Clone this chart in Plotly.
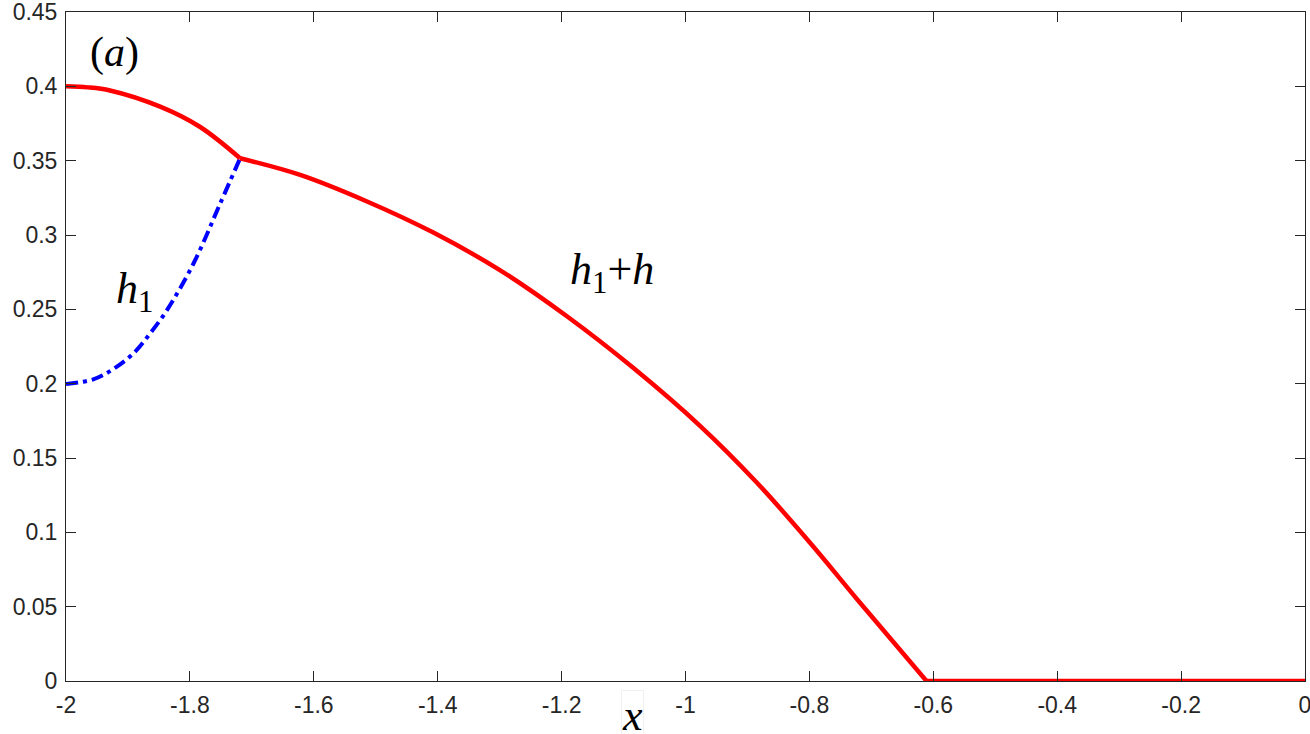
import plotly.graph_objects as go

# Red curve h1+h, upper part (x from -2 to junction)
red1_x = [-2.0, -1.965, -1.929, -1.848, -1.784, -1.719]
red1_y = [0.400, 0.3993, 0.3972, 0.3863, 0.3728, 0.3516]
# Red curve h1+h, main part (junction to front)
red2_x = [-1.719, -1.622, -1.515, -1.407, -1.299, -1.192, -1.084, -0.977, -0.885, -0.800, -0.720, -0.611]
red2_y = [0.3516, 0.3404, 0.3227, 0.3016, 0.2762, 0.2455, 0.2105, 0.1718, 0.1335, 0.0935, 0.0535, 0.0]
# Red flat part
red3_x = [-0.611, 0.0]
red3_y = [0.0, 0.0]
# Blue dash-dot curve h1
blue_x = [-2.0, -1.956, -1.924, -1.891, -1.864, -1.837, -1.794, -1.751, -1.719]
blue_y = [0.1998, 0.2029, 0.2097, 0.2204, 0.2339, 0.2495, 0.281, 0.3213, 0.3516]

x_ticks = [-2, -1.8, -1.6, -1.4, -1.2, -1, -0.8, -0.6, -0.4, -0.2, 0]
x_ticktext = ["-2", "-1.8", "-1.6", "-1.4", "-1.2", "-1", "-0.8", "-0.6", "-0.4", "-0.2", "0"]
y_ticks = [0, 0.05, 0.1, 0.15, 0.2, 0.25, 0.3, 0.35, 0.4, 0.45]
y_ticktext = ["0", "0.05", "0.1", "0.15", "0.2", "0.25", "0.3", "0.35", "0.4", "0.45"]

RED = "#ff0000"
BLUE = "#0000ff"

fig = go.Figure()
fig.add_trace(go.Scatter(x=blue_x, y=blue_y, mode="lines",
                         line=dict(color=BLUE, width=4, dash="12px,5px,4px,5px", shape="spline"),
                         showlegend=False, hoverinfo="skip"))
fig.add_trace(go.Scatter(x=red1_x, y=red1_y, mode="lines",
                         line=dict(color=RED, width=4.5, shape="spline"),
                         showlegend=False, hoverinfo="skip"))
fig.add_trace(go.Scatter(x=red2_x, y=red2_y, mode="lines",
                         line=dict(color=RED, width=4.5, shape="spline"),
                         showlegend=False, hoverinfo="skip"))
fig.add_trace(go.Scatter(x=red3_x, y=red3_y, mode="lines",
                         line=dict(color=RED, width=4.5),
                         showlegend=False, hoverinfo="skip", cliponaxis=False))

serif = "Liberation Serif, DejaVu Serif, serif"
fig.add_annotation(x=-1.9225, y=0.423, text="(<i>a</i>)", showarrow=False,
                   font=dict(family=serif, size=42, color="black"))
fig.add_annotation(x=-1.890, y=0.2617, text="<i>h</i><sub>1</sub>", showarrow=False,
                   font=dict(family=serif, size=44, color="black"))
fig.add_annotation(x=-1.1186, y=0.2751, text="<i>h</i><sub>1</sub>+<i>h</i>", showarrow=False,
                   font=dict(family=serif, size=44, color="black"))
fig.add_annotation(x=-1.0863, xref="x", y=-0.052, yref="paper", yanchor="middle",
                   text="<i>x</i>", showarrow=False,
                   font=dict(family=serif, size=44, color="black"),
                   bordercolor="#f0f0f0", borderwidth=1, borderpad=0)

axis_common = dict(showline=True, linecolor="#262626", linewidth=1, mirror="ticks",
                   ticks="inside", ticklen=10, tickcolor="#262626", tickwidth=1,
                   showgrid=False, zeroline=False, automargin=False,
                   ticklabeloverflow="allow",
                   tickfont=dict(family="Liberation Sans, Arial, sans-serif", size=23, color="#262626"))

fig.update_xaxes(range=[-2, 0], tickvals=x_ticks, ticktext=x_ticktext,
                 ticklabelstandoff=3, **axis_common)
fig.update_yaxes(range=[0, 0.45], tickvals=y_ticks, ticktext=y_ticktext,
                 ticklabelstandoff=3, **axis_common)

fig.update_layout(width=1310, height=734, margin=dict(l=66, r=5, t=12, b=53),
                  plot_bgcolor="white", paper_bgcolor="white")

fig.write_html("out.html", config={"displayModeBar": False},
               post_script="document.body.style.margin='0';document.body.style.overflow='hidden';")
